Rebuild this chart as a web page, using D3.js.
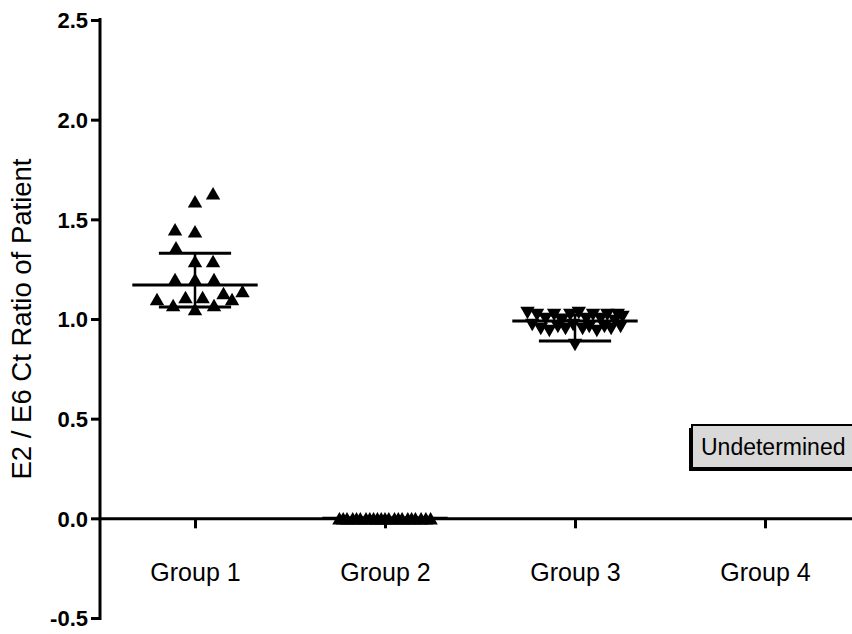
<!DOCTYPE html>
<html>
<head>
<meta charset="utf-8">
<script src="https://cdn.jsdelivr.net/npm/d3@7/dist/d3.min.js"></script>
<style>
  html, body { margin: 0; padding: 0; background: #fff; }
  svg { display: block; font-family: Arial, "Liberation Sans", sans-serif; }
</style>
</head>
<body>
<svg id="chart" width="852" height="634"></svg>
<script>
// Group names along the x axis
const groups = ["Group 1", "Group 2", "Group 3", "Group 4"];

// Y axis ticks
const yTicks = [-0.5, 0.0, 0.5, 1.0, 1.5, 2.0, 2.5];

// E2/E6 Ct ratios per patient, with horizontal spread (in group widths)
const group1Values = [1.63, 1.59, 1.45, 1.44, 1.36, 1.29, 1.29, 1.20, 1.20, 1.20,
                      1.10, 1.07, 1.11, 1.05, 1.11, 1.07, 1.13, 1.10, 1.14];
const group1Spread = [0.095, 0.0, -0.105, 0.0, -0.10, 0.0, 0.095, -0.105, 0.0, 0.10,
                      -0.20, -0.115, -0.05, 0.0, 0.04, 0.10, 0.15, 0.195, 0.25];

const group2Values = [0, 0, 0, 0, 0, 0, 0, 0, 0, 0, 0, 0, 0, 0, 0, 0, 0, 0, 0, 0, 0, 0];
const group2Spread = [-0.24, -0.22, -0.20, -0.17, -0.15, -0.13, -0.10, -0.08, -0.06, -0.04,
                      -0.02, 0.0, 0.02, 0.05, 0.07, 0.09, 0.12, 0.14, 0.16, 0.19, 0.215, 0.24];

const group3Values = [1.03, 0.97, 1.02, 0.95, 1.00, 0.94, 1.02, 0.96, 0.99, 0.95, 1.02, 0.97,
                      0.87, 1.03, 0.95, 1.00, 0.96, 1.02, 0.94, 1.00, 0.96, 1.02, 0.95, 0.99,
                      1.02, 0.96, 1.01];
const group3Spread = [-0.25, -0.225, -0.20, -0.18, -0.155, -0.135, -0.11, -0.09, -0.07, -0.05,
                      -0.025, -0.01, 0.0, 0.02, 0.04, 0.06, 0.075, 0.095, 0.115, 0.135,
                      0.155, 0.17, 0.19, 0.21, 0.225, 0.24, 0.25];

// Centre line and error bar ends per group (Group 4 has no data)
const centreValues = [1.17, 0.0, 0.99, null];
const errorHigh = [1.33, 0.0, 1.02, null];
const errorLow = [1.06, 0.0, 0.89, null];

const svg = d3.select("#chart");

const x = d3.scaleLinear().domain([0.5, 4.5]).range([100, 860]);
const y = d3.scaleLinear().domain([-0.5, 2.5]).range([618, 20]);

// Y axis
const fmt = d3.format(".1f");
const yAxis = svg.append("g")
  .attr("transform", `translate(${x(0.5)},0)`)
  .call(d3.axisLeft(y).tickValues(yTicks).tickFormat(d => fmt(d).replace("\u2212", "-"))
        .tickSize(9).tickSizeOuter(0).tickPadding(3));
yAxis.select(".domain").attr("stroke", "#000").attr("stroke-width", 3)
  .attr("d", `M0,${y(2.5) - 2}V${y(-0.5) + 2}`);
yAxis.selectAll(".tick line").attr("stroke", "#000").attr("stroke-width", 3);
yAxis.selectAll(".tick text").attr("fill", "#000").attr("font-size", 22)
  .attr("font-weight", "bold").attr("dy", "0.36em");

// X axis drawn along zero
const xAxis = svg.append("g")
  .attr("transform", `translate(0,${y(0)})`)
  .call(d3.axisBottom(x).tickValues([1, 2, 3, 4]).tickFormat(i => groups[i - 1])
        .tickSize(10).tickSizeOuter(0).tickPadding(35));
xAxis.select(".domain").attr("stroke", "#000").attr("stroke-width", 3);
xAxis.selectAll(".tick line").attr("stroke", "#000").attr("stroke-width", 3);
xAxis.selectAll(".tick text").attr("fill", "#000").attr("font-size", 25);

// Y axis title
svg.append("text")
  .attr("transform", `translate(31,${(y(2.5) + y(-0.5)) / 2}) rotate(-90)`)
  .attr("text-anchor", "middle")
  .attr("font-size", 27.5)
  .attr("fill", "#000")
  .text("E2 / E6 Ct Ratio of Patient");

// Error bars and centre lines
const stats = groups.map((g, i) => ({ i: i + 1, c: centreValues[i], hi: errorHigh[i], lo: errorLow[i] }))
  .filter(d => d.c !== null);
const eb = svg.append("g").attr("stroke", "#000");
stats.forEach(d => {
  eb.append("line").attr("x1", x(d.i)).attr("x2", x(d.i))
    .attr("y1", y(d.hi)).attr("y2", y(d.lo)).attr("stroke-width", 2.5);
  eb.append("line").attr("x1", x(d.i - 0.19)).attr("x2", x(d.i + 0.19))
    .attr("y1", y(d.hi)).attr("y2", y(d.hi)).attr("stroke-width", 3);
  eb.append("line").attr("x1", x(d.i - 0.19)).attr("x2", x(d.i + 0.19))
    .attr("y1", y(d.lo)).attr("y2", y(d.lo)).attr("stroke-width", 3);
  eb.append("line").attr("x1", x(d.i - 0.33)).attr("x2", x(d.i + 0.33))
    .attr("y1", y(d.c)).attr("y2", y(d.c)).attr("stroke-width", 3);
});

// Scatter points; triangles are centred on their bounding box
const tri = d3.symbol().type(d3.symbolTriangle).size(90);
function drawPoints(idx, values, spread, inverted) {
  svg.append("g").selectAll("path")
    .data(values.map((v, k) => ({ v, s: spread[k] })))
    .join("path")
    .attr("d", tri)
    .attr("fill", "#000")
    .attr("transform", d => inverted
      ? `translate(${x(idx + d.s)},${y(d.v) - 2}) rotate(180)`
      : `translate(${x(idx + d.s)},${y(d.v) + 2})`);
}
drawPoints(1, group1Values, group1Spread, false);
drawPoints(2, group2Values, group2Spread, false);
drawPoints(3, group3Values, group3Spread, true);

// Group 4 note
const note = svg.append("g").attr("transform", "translate(692,425)");
note.append("rect").attr("x", -3).attr("y", 3).attr("width", 175).attr("height", 43).attr("fill", "#000");
note.append("rect").attr("x", 0).attr("y", 0).attr("width", 175).attr("height", 43)
  .attr("fill", "#d9d9d9").attr("stroke", "#000").attr("stroke-width", 2);
note.append("text").attr("x", 9).attr("y", 30).attr("font-size", 23).attr("fill", "#000")
  .text("Undetermined");
</script>
</body>
</html>
